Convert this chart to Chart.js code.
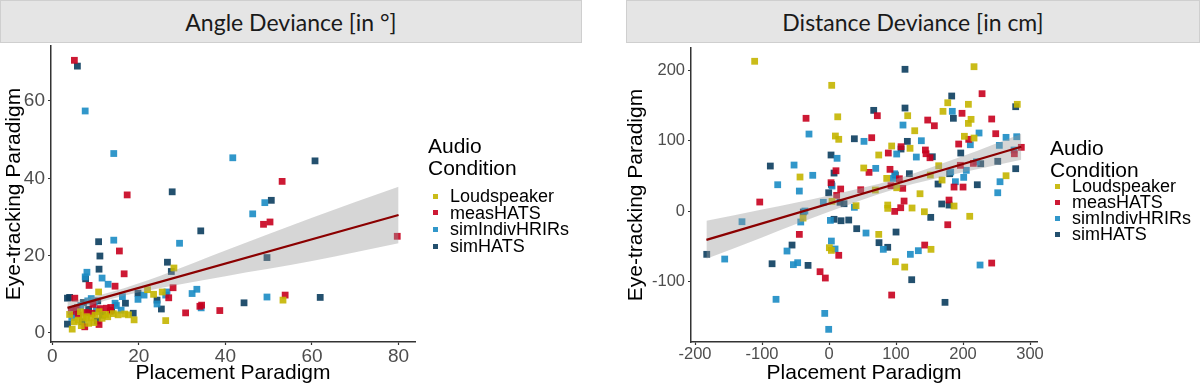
<!DOCTYPE html>
<html lang="en">
<head>
<meta charset="UTF-8">
<title>Angle and Distance Deviance</title>
<style>
    body {
        margin: 0;
        background: #fff;
        font-family: 'Liberation Sans', Arial, sans-serif;
    }
    .wrap {
        position: relative;
        width: 1200px;
        height: 386px;
        overflow: hidden;
    }
    .panel {
        position: absolute;
        top: 0;
        width: 600px;
        height: 386px;
    }
    .strip {
        position: absolute;
        top: 0;
        height: 43px;
        background: #e5e5e5;
        border: 1px solid #cfcfcf;
        box-sizing: border-box;
        font-family: Lato, 'Open Sans', sans-serif;
        font-size: 23px;
        color: #1a1a1a;
        display: flex;
        align-items: center;
        justify-content: center;
        z-index: 2;
    }
    .legend {
        position: absolute;
        color: #000;
        z-index: 2;
    }
    .legend .title {
        font-size: 21px;
        line-height: 22px;
    }
    .legend .items {
        margin-top: 9px;
    }
    .legend .item {
        font-size: 18px;
        line-height: 16.6px;
        white-space: nowrap;
    }
    #legRight .items {
        margin-top: -3px;
    }
    #legRight .item {
        line-height: 16px;
    }
    .legend .sw {
        display: inline-block;
        width: 5px;
        height: 5px;
        margin: 0 12px 0 5px;
        vertical-align: middle;
        position: relative;
        top: -1px;
    }
</style>
</head>
<body>
<div class="wrap">
    <div class="panel" style="left:0"><canvas id="angleChart"></canvas></div>
    <div class="panel" style="left:600px"><canvas id="distChart"></canvas></div>
    <div class="strip" style="left:0; width:582px">Angle Deviance [in °]</div>
    <div class="strip" style="left:626px; width:574px">Distance Deviance [in cm]</div>
    <div class="legend" id="legLeft" style="left:428px; top:135px"></div>
    <div class="legend" id="legRight" style="left:1050px; top:137px"></div>
</div>

<script src="https://cdn.jsdelivr.net/npm/chart.js"></script>
<script>
// ---- data ----
const groups = ['Loudspeaker', 'measHATS', 'simIndivHRIRs', 'simHATS'];
const groupColors = ['#c4b500', '#c8001e', '#1b8cc4', '#0b3d5e'];

// Angle deviance panel [x = placement, y = eye-tracking]
const angleLoud = [[28.1,16.8],[53.3,8.5],[10.7,10.6],[22,11.2],[23.4,10],[25.4,10.6],[26.2,3.2],[18.9,3.4],
    [17.6,4.7],[16.7,4.9],[15.2,4.7],[14.1,5.0],[12.3,4.8],[10.8,5.5],[7.9,4.2],[7.2,3.8],[4.6,1.0],[5.1,2.9],
    [8.4,2.5],[4.0,4.8],[6.5,5.5],[9.9,4.6],[11.5,3.8],[9.6,2.7],[6.7,1.9],[6.0,3.3],[8.9,3.9],[12.8,4.2]];
const angleMeas = [[5.1,70.5],[17.3,35.7],[53.1,39.2],[48.8,28.1],[50.3,28.7],[79.7,25],[27.9,11.7],[34.1,6.9],
    [30.8,5.2],[38.7,5.8],[53.8,9.8],[15.5,21.2],[16.6,15.3],[8.5,12.3],[14.5,12.1],[26.9,9.1],[5.2,9.0],
    [9.2,5.1],[7.5,1.6],[10.8,2.2],[6.0,4.7],[4.4,5.6],[5.5,6.3],[7.8,5.3],[11.0,6.3],[9.4,7.4],[13.5,6.6],
    [12.5,6.4],[13.4,5.6],[34.5,7.2]];
const angleIndiv = [[7.6,57.4],[14.2,46.4],[41.7,45.3],[49.1,33.7],[46.3,30.8],[29.4,23.2],[32.3,10.2],[33.4,11.3],
    [34.4,6.5],[49.6,9.3],[14.2,24.0],[8,15.7],[7.6,14.5],[11.5,14.2],[12.9,12.6],[19.8,8.7],[21.2,9.8],
    [24.2,7.5],[26.5,10.6],[26.2,9.8],[15.9,5.9],[14.5,7.7],[16.2,9.4],[4.5,4.0],[4.9,6.1],[6.6,7.1],[8.2,8.3],
    [9.0,8.9],[9.7,8.0],[5.7,5.3],[10.2,5.9],[14.8,7.1]];
const angleSim = [[5.8,69],[27.7,36.5],[60.7,44.5],[50.6,34.3],[34.3,26.4],[49.6,19.5],[27.5,15.9],[44.3,7.8],
    [61.9,9.2],[10.7,23.6],[11,19.9],[10.8,16.5],[7.7,14.0],[26.6,18.3],[19.8,10.3],[24.2,8.5],[25.2,6.2],
    [18.7,5.1],[3.5,9.0],[4.0,9.2],[16.9,7.7],[13.7,5.9],[11.6,4.6],[3.5,2.3],[6.9,2.9],[5.8,6.5],[7.2,7.9],
    [10.5,8.3],[8.4,6.1],[10.4,3.1]];
const angleFitX = [3.5, 80];
const angleFitY = [6.5, 30.5];
const angleBandX = [3.5, 8, 14, 25, 40, 60, 80];
const angleBandLow = [4.9, 6.8, 8.9, 11.6, 14.7, 18.6, 23.2];
const angleBandHigh = [8.1, 9.0, 10.7, 14.8, 21.3, 29.8, 37.8];
const angleXTicks = [0, 20, 40, 60, 80];
const angleYTicks = [0, 20, 40, 60];

// Distance deviance panel
const distLoud = [[-111,213],[-43.3,48.4],[-38.8,-10],[4,178.8],[13,134],[9.5,106.7],[14.5,102],[0.5,-52.2],
    [3.5,-56],[216.4,205.3],[281,151.8],[177.2,154],[208,151.8],[170.1,141.8],[117.4,135.6],[212,130.4],
    [208,124.7],[127.9,114.2],[202,106.3],[216.4,103.8],[120.9,89.2],[93.5,92.5],[74.2,79.7],[51.8,61.2],
    [163.7,64.4],[86.1,46.4],[101,33.1],[151.2,51.2],[168.7,44.1],[4.5,13.8],[40.3,7.6],[69.1,29.9],
    [87.6,8.5],[87.6,3.8],[123.9,4.3],[135.8,24.6],[142.3,-1],[186.6,7.1],[210,-7.5],[74.2,-33.2],
    [152.2,-54.5],[99,-72.1],[113,-79.7],[264.2,50.2]];
const distMeas = [[-34.3,131.9],[-103.4,12.8],[-44.3,-33.2],[-13.4,-86.3],[-5.5,-95.3],[10.4,57.3],[3,40.3],
    [14.5,-63],[228.4,166.9],[72.1,135.6],[198.5,139],[242.8,130.9],[147.3,129.4],[157.2,121.3],[248.8,110],
    [63.7,104.3],[208.5,102],[107.5,91.5],[193.5,95.3],[143.8,86.8],[144.8,81.5],[88.5,82.5],[150.7,75.8],
    [287,90.6],[276.6,81.5],[59.7,55],[91,59.3],[105,45.9],[92.5,36],[110,32.3],[186.6,34.1],[200,34.1],
    [196,65],[215.4,67.8],[17.4,31.3],[11.4,22.3],[47.3,30.3],[98,-0.5],[107,4.7],[112,14.2],[179.1,15.6],
    [177.2,-19.5],[142.8,-48.4],[93.5,-119.5],[242.8,-74]];
const distIndiv = [[-29.9,109.5],[-52.2,65.4],[-24.3,50.8],[-76.6,37.4],[-44.3,28.4],[-36,0],[-155.7,-68.3],
    [-129.9,-15.2],[-62.7,-56.9],[-53.2,-76.3],[-46.8,-73.5],[-79.1,-125.6],[-42.2,-15.6],[12,75],[4.5,35.6],
    [-8.5,12.4],[2,-13.3],[3.5,-42.7],[9,-54],[-6.4,-145.6],[-0.5,-168.3],[184,141.8],[110.4,122.3],[223.9,111],
    [52.2,99.1],[264.2,104.8],[280.1,105.7],[137.8,100],[210.9,94.3],[254.2,93.4],[101,81.1],[130.3,76.8],
    [276.1,86.8],[69.7,60.7],[98,53],[96,46.4],[181.6,55.5],[188.6,41.7],[201,47.9],[204.9,57.9],[219.9,70],
    [255.2,41.7],[251.8,26],[37.8,5.3],[55.2,-31.3],[81,-54.5],[121.4,-61.6],[133.3,-56.4],[225.4,-76.8]];
const distSim = [[-87.6,64],[-38.4,-1.4],[-182.5,-61.6],[-55.2,-48.4],[-85,-75],[-31.3,-77.3],[3,79.7],[7.5,54],
    [3.5,37.9],[-0.5,26],[7.5,-11.8],[113.4,201.6],[183.1,163.6],[278.6,148.4],[66.7,143.2],[113.4,146.5],
    [185.6,131.9],[37.8,102.8],[116.9,99.1],[107.5,88.2],[154.2,77.2],[196.6,82.5],[99,51.2],[119.9,53.1],
    [180.1,53.1],[162.7,38.4],[226.4,67.3],[251.8,70.7],[221.3,37.4],[278.6,60.2],[16.4,12.4],[22.4,10.4],
    [151.8,-9],[168.2,10],[179.1,8.5],[17.9,-13.8],[29.4,-12.8],[41.3,-25.1],[74.6,-45],[87.6,-51.6],
    [100,-29.9],[123.4,-97.7],[173.1,-129.9]];
const distFitX = [-183, 287];
const distFitY = [-41, 91.5];
const distBandX = [-183, -100, 0, 100, 200, 287];
const distBandLow = [-68, -37.5, -1.2, 31.6, 55, 73];
const distBandHigh = [-14, 2, 22, 45.6, 78.3, 110];
const distXTicks = [-200, -100, 0, 100, 200, 300];
const distYTicks = [-100, 0, 100, 200];

// ---- helpers ----
Chart.defaults.font.family = "'Liberation Sans', Arial, sans-serif";

function hexA(hex, a) {
    const n = parseInt(hex.slice(1), 16);
    return 'rgba(' + (n >> 16) + ',' + ((n >> 8) & 255) + ',' + (n & 255) + ',' + a + ')';
}

function toXY(xs, ys) {
    return xs.map((x, i) => ({ x: x, y: ys[i] }));
}

function buildChart(id, p) {
    const pointSets = p.series.map((s, i) => ({
        type: 'scatter',
        label: groups[i],
        data: s.map(d => ({ x: d[0], y: d[1] })),
        pointStyle: 'rect',
        pointRadius: 4.8,
        pointHoverRadius: 4.8,
        backgroundColor: hexA(groupColors[i], 0.9),
        borderWidth: 0,
        order: 3
    }));

    const bandSets = [
        {
            type: 'line',
            data: toXY(p.bandX, p.bandHigh),
            borderWidth: 0,
            pointRadius: 0,
            fill: '+1',
            backgroundColor: 'rgba(153,153,153,0.4)',
            cubicInterpolationMode: 'monotone',
            order: 1
        },
        {
            type: 'line',
            data: toXY(p.bandX, p.bandLow),
            borderWidth: 0,
            pointRadius: 0,
            fill: false,
            cubicInterpolationMode: 'monotone',
            order: 1
        },
        {
            type: 'line',
            data: toXY(p.fitX, p.fitY),
            borderColor: '#8b0000',
            borderWidth: 2.2,
            pointRadius: 0,
            fill: false,
            order: 0
        }
    ];

    const axisCommon = (ticks, size) => ({
        type: 'linear',
        afterBuildTicks: s => { s.ticks = ticks.map(v => ({ value: v })); },
        grid: { drawOnChartArea: false, drawTicks: true, tickLength: 3, tickColor: '#333', tickWidth: 1.2 },
        border: { display: true, color: '#333', width: 1.5 },
        ticks: { color: '#4d4d4d', font: { size: size }, autoSkip: false, maxRotation: 0 }
    });

    const xs = axisCommon(p.xTicks, p.tickSize);
    xs.min = p.xRange[0];
    xs.max = p.xRange[1];
    xs.ticks.padding = 0;
    xs.afterFit = s => { s.height = 44; };
    xs.title = { display: true, text: 'Placement Paradigm', color: '#000', font: { size: 21 }, padding: { top: 0, bottom: 0 } };

    const ys = axisCommon(p.yTicks, p.tickSize);
    ys.min = p.yRange[0];
    ys.max = p.yRange[1];
    ys.ticks.padding = 3;
    ys.afterFit = s => { s.width = p.yWidth; };
    ys.title = { display: true, text: 'Eye-tracking Paradigm', color: '#000', font: { size: 21 }, padding: { top: p.yTitlePad, bottom: 0 } };

    return new Chart(document.getElementById(id), {
        type: 'scatter',
        data: { datasets: pointSets.concat(bandSets) },
        options: {
            responsive: true,
            maintainAspectRatio: false,
            animation: false,
            layout: { padding: p.padding },
            plugins: { legend: { display: false }, tooltip: { enabled: false } },
            scales: { x: xs, y: ys }
        }
    });
}

function buildLegend(id) {
    let html = '<div class="title">Audio<br>Condition</div><div class="items">';
    groups.forEach((g, i) => {
        html += '<div class="item"><span class="sw" style="background:' + hexA(groupColors[i], 0.9) + '"></span>' + g + '</div>';
    });
    document.getElementById(id).innerHTML = html + '</div>';
}

buildChart('angleChart', {
    series: [angleLoud, angleMeas, angleIndiv, angleSim],
    fitX: angleFitX, fitY: angleFitY,
    bandX: angleBandX, bandLow: angleBandLow, bandHigh: angleBandHigh,
    xTicks: angleXTicks, yTicks: angleYTicks,
    xRange: [-0.3, 83.8], yRange: [-2.33, 74.2],
    tickSize: 19, yWidth: 51, yTitlePad: 2,
    padding: { top: 46, right: 185, left: 0, bottom: 0 }
});

buildChart('distChart', {
    series: [distLoud, distMeas, distIndiv, distSim],
    fitX: distFitX, fitY: distFitY,
    bandX: distBandX, bandLow: distBandLow, bandHigh: distBandHigh,
    xTicks: distXTicks, yTicks: distYTicks,
    xRange: [-206, 310.4], yRange: [-186.3, 231.9],
    tickSize: 16.5, yWidth: 76, yTitlePad: 9,
    padding: { top: 48, right: 163, left: 15, bottom: 0 }
});

buildLegend('legLeft');
buildLegend('legRight');
</script>
</body>
</html>
